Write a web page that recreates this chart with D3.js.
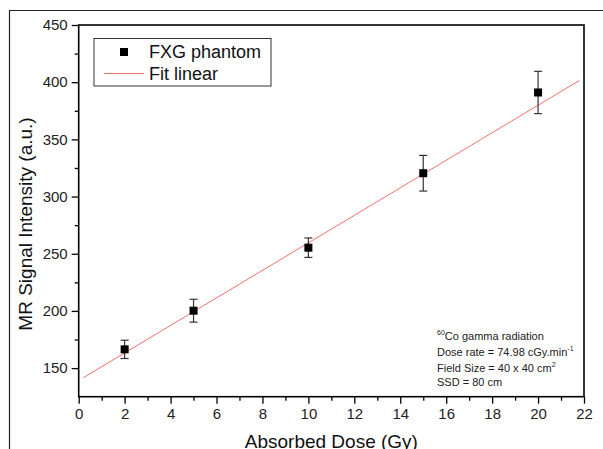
<!DOCTYPE html>
<html>
<head>
<meta charset="utf-8">
<script src="https://cdn.jsdelivr.net/npm/d3@7"></script>
<style>
  body { margin: 0; background: #fff; }
  svg { display: block; font-family: Arial, "Liberation Sans", sans-serif; }
</style>
</head>
<body>
<div id="chart"></div>
<script>
var width = 603, height = 449;

// data
var doses = [2, 5, 10, 15, 20];
var signal = [166.4, 200.2, 255.3, 320.4, 391];
var errors = [8, 10, 8.5, 15.6, 18.5];
var fitDose = [0.2, 21.8];
var fitSignal = [141.6, 401.5];
var xTicks = [0, 2, 4, 6, 8, 10, 12, 14, 16, 18, 20, 22];
var yTicks = [150, 200, 250, 300, 350, 400, 450];
var notes = ["Co gamma radiation", "Dose rate = 74.98 cGy.min", "Field Size = 40 x 40 cm", "SSD = 80 cm"];

var pLeft = 78.7, pRight = 584, pTop = 25, pBottom = 396.7;

var x = d3.scaleLinear().domain([0, 22]).range([pLeft, pRight]);
var y = d3.scaleLinear().domain([125, 450]).range([pBottom, pTop]);

var svg = d3.select('#chart').append('svg')
  .attr('width', width)
  .attr('height', height);

// outer frame (only top and left visible)
svg.append('path')
  .attr('d', 'M9.5,' + height + 'V10.5H' + width)
  .attr('fill', 'none')
  .attr('stroke', '#222')
  .attr('stroke-width', 1.2);

// axes
var xAxis = d3.axisBottom(x).tickValues(xTicks).tickSize(7).tickPadding(5).tickFormat(d3.format('d'));
var xMinor = d3.axisBottom(x).tickValues(d3.range(1, 22, 2)).tickSize(4).tickFormat('');
var yAxis = d3.axisLeft(y).tickValues(yTicks).tickSize(7).tickPadding(4).tickFormat(d3.format('d'));
var yMinor = d3.axisLeft(y).tickValues(d3.range(175, 450, 50)).tickSize(4).tickFormat('');

function styleAxis(g) {
  g.select('.domain').remove();
  g.selectAll('line').attr('stroke', '#000').attr('stroke-width', 1.3);
  g.selectAll('text').attr('fill', '#222').style('font-size', '15px').style('font-family', 'Arial, "Liberation Sans", sans-serif');
}

svg.append('g').attr('transform', 'translate(0,' + pBottom + ')').call(xAxis).call(styleAxis);
svg.append('g').attr('transform', 'translate(0,' + pBottom + ')').call(xMinor).call(styleAxis);
svg.append('g').attr('transform', 'translate(' + pLeft + ',0)').call(yAxis).call(styleAxis);
svg.append('g').attr('transform', 'translate(' + pLeft + ',0)').call(yMinor).call(styleAxis);

// plot box
svg.append('rect')
  .attr('x', pLeft).attr('y', pTop)
  .attr('width', pRight - pLeft).attr('height', pBottom - pTop)
  .attr('fill', 'none')
  .attr('stroke', '#000')
  .attr('stroke-width', 1.6);

// fit line
var line = d3.line()
  .x(function (d) { return x(d[0]); })
  .y(function (d) { return y(d[1]); });

svg.append('path')
  .datum(d3.zip(fitDose, fitSignal))
  .attr('d', line)
  .attr('fill', 'none')
  .attr('stroke', '#f07070')
  .attr('stroke-width', 1);

// error bars
var pts = doses.map(function (d, i) { return { x: d, y: signal[i], e: errors[i] }; });

var eb = svg.selectAll('.err').data(pts).enter().append('g').attr('class', 'err')
  .attr('stroke', '#333').attr('stroke-width', 1.2);
eb.append('line')
  .attr('x1', function (d) { return x(d.x); }).attr('x2', function (d) { return x(d.x); })
  .attr('y1', function (d) { return y(d.y - d.e); }).attr('y2', function (d) { return y(d.y + d.e); });
eb.append('line')
  .attr('x1', function (d) { return x(d.x) - 4; }).attr('x2', function (d) { return x(d.x) + 4; })
  .attr('y1', function (d) { return y(d.y + d.e); }).attr('y2', function (d) { return y(d.y + d.e); });
eb.append('line')
  .attr('x1', function (d) { return x(d.x) - 4; }).attr('x2', function (d) { return x(d.x) + 4; })
  .attr('y1', function (d) { return y(d.y - d.e); }).attr('y2', function (d) { return y(d.y - d.e); });

// markers
svg.selectAll('.pt').data(pts).enter().append('rect')
  .attr('class', 'pt')
  .attr('x', function (d) { return x(d.x) - 4; })
  .attr('y', function (d) { return y(d.y) - 4; })
  .attr('width', 8).attr('height', 8)
  .attr('fill', '#000');

// legend
var lg = svg.append('g');
lg.append('rect')
  .attr('x', 94).attr('y', 38.5).attr('width', 177).attr('height', 47.5)
  .attr('fill', '#fff').attr('stroke', '#333').attr('stroke-width', 1);
lg.append('rect').attr('x', 120).attr('y', 48).attr('width', 8).attr('height', 8).attr('fill', '#000');
lg.append('text').attr('x', 149).attr('y', 58).style('font-size', '18px').attr('fill', '#111').text('FXG phantom');
lg.append('line').attr('x1', 104).attr('x2', 144).attr('y1', 73.5).attr('y2', 73.5)
  .attr('stroke', '#f07070').attr('stroke-width', 1);
lg.append('text').attr('x', 149).attr('y', 80).style('font-size', '18px').attr('fill', '#111').text('Fit linear');

// annotation
var an = svg.append('g').style('font-size', '11px').attr('fill', '#222');
var noteY = [340, 356, 372, 386];
notes.forEach(function (t, i) {
  var tx = an.append('text').attr('x', 437).attr('y', noteY[i]);
  if (i === 0) {
    tx.append('tspan').style('font-size', '7px').attr('dy', -5).text('60');
    tx.append('tspan').attr('dy', 5).text(t);
  } else if (i === 1) {
    tx.text(t);
    tx.append('tspan').style('font-size', '7px').attr('dy', -5).text('-1');
  } else if (i === 2) {
    tx.text(t);
    tx.append('tspan').style('font-size', '7px').attr('dy', -5).text('2');
  } else {
    tx.text(t);
  }
});

// axis titles
svg.append('text')
  .attr('x', (pLeft + pRight) / 2).attr('y', 448)
  .attr('text-anchor', 'middle')
  .style('font-size', '19px').attr('fill', '#111')
  .text('Absorbed Dose (Gy)');

svg.append('text')
  .attr('transform', 'translate(32,224) rotate(-90)')
  .attr('text-anchor', 'middle')
  .style('font-size', '19px').attr('fill', '#111')
  .text('MR Signal Intensity (a.u.)');
</script>
</body>
</html>
